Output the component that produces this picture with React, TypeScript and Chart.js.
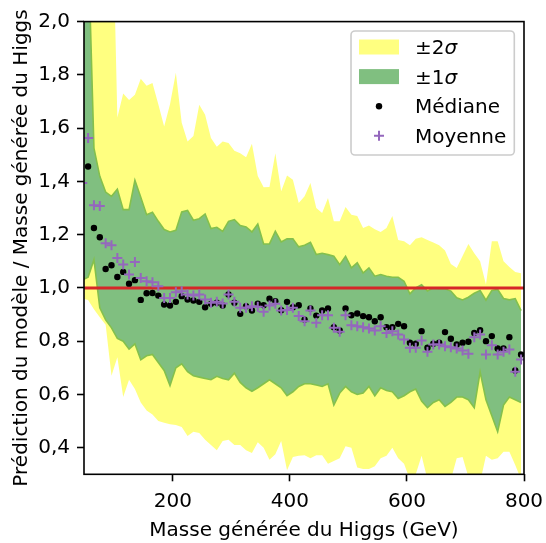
import React, { useEffect, useRef } from 'react';
import { Chart, registerables } from 'chart.js';

Chart.register(...registerables);

// ---------- data ----------
const masses = [
  45, 55, 65, 75, 85, 95, 105, 115, 125, 135, 145, 155, 165, 175, 185, 195, 205, 215, 225, 235,
  245, 255, 265, 275, 285, 295, 305, 315, 325, 335, 345, 355, 365, 375, 385, 395, 405, 415, 425, 435,
  445, 455, 465, 475, 485, 495, 505, 515, 525, 535, 545, 555, 565, 575, 585, 595, 605, 615, 625, 635,
  645, 655, 665, 675, 685, 695, 705, 715, 725, 735, 745, 755, 765, 775, 785, 795,
];

const medianValues: (number | null)[] = [
  null, 1.456, 1.225, 1.19, 1.071, 1.085, 1.041, 1.06, 1.016, 1.029, 0.955, 0.98, 0.981, 0.971, 0.9375, 0.934, 0.9475, 0.969, 0.956, 0.9525,
  0.9475, 0.9275, 0.94, 0.944, 0.934, 0.975, 0.944, 0.9025, 0.931, 0.915, 0.941, 0.935, 0.959, 0.95, 0.916, 0.9475, 0.9275, 0.935, 0.881, 0.9225,
  0.896, 0.915, 0.9225, 0.8525, 0.84, 0.9225, 0.8975, 0.904, 0.894, 0.89, 0.875, 0.89, 0.8525, 0.8525, 0.865, 0.856, 0.794, 0.79, 0.8375, 0.775,
  0.79, 0.794, 0.834, 0.809, 0.7875, 0.794, 0.7975, 0.831, 0.841, 0.8, 0.819, 0.7725, 0.7725, 0.815, 0.69, 0.75,
];

const meanValues = [
  1.394, 1.5625, 1.31, 1.3075, 1.1675, 1.16, 1.1125, 1.0875, 1.05, 1.0975, 1.0375, 1.025, 1.021, 1.006, 0.9625, 0.9625, 0.984, 0.9875, 0.975, 0.971,
  0.975, 0.956, 0.944, 0.9475, 0.941, 0.975, 0.9475, 0.925, 0.925, 0.931, 0.929, 0.91, 0.934, 0.94, 0.915, 0.917, 0.925, 0.894, 0.875, 0.915,
  0.869, 0.8975, 0.8975, 0.85, 0.835, 0.8975, 0.86, 0.856, 0.8525, 0.8475, 0.84, 0.856, 0.831, 0.8375, 0.825, 0.806, 0.775, 0.775, 0.8025, 0.76,
  0.7875, 0.7875, 0.781, 0.7775, 0.7725, 0.765, 0.7525, 0.815, 0.825, 0.75, 0.785, 0.75, 0.76, 0.769, 0.685, 0.731,
];

const sigma1Upper = [
  2.6, 2.3, 1.525, 1.419, 1.36, 1.344, 1.371, 1.294, 1.294, 1.404, 1.34, 1.275, 1.284, 1.25, 1.219, 1.21, 1.216, 1.285, 1.291, 1.254,
  1.26, 1.2775, 1.2225, 1.2275, 1.2125, 1.25, 1.256, 1.234, 1.229, 1.21, 1.24, 1.165, 1.165, 1.2125, 1.1725, 1.184, 1.184, 1.154, 1.16, 1.171,
  1.125, 1.13, 1.125, 1.119, 1.0875, 1.119, 1.075, 1.094, 1.056, 1.075, 1.044, 1.05, 1.044, 1.04, 1.04, 1.025, 0.978, 1.0, 1.012, 0.988,
  1.0, 0.997, 0.997, 0.988, 0.963, 0.955, 0.965, 0.98, 0.99, 0.954, 0.99, 0.994, 0.96, 0.955, 0.96, 0.915,
];

const sigma1Lower = [
  1.03, 1.04, 1.106, 0.925, 0.88, 0.85, 0.81, 0.8, 0.77, 0.79, 0.73, 0.745, 0.75, 0.72, 0.69, 0.633, 0.7, 0.715, 0.685, 0.67,
  0.665, 0.66, 0.655, 0.668, 0.66, 0.655, 0.68, 0.645, 0.625, 0.612, 0.625, 0.64, 0.655, 0.64, 0.625, 0.595, 0.61, 0.63, 0.64, 0.64,
  0.635, 0.63, 0.64, 0.56, 0.605, 0.63, 0.61, 0.6, 0.605, 0.63, 0.595, 0.625, 0.615, 0.61, 0.585, 0.595, 0.61, 0.62, 0.575, 0.55,
  0.57, 0.58, 0.555, 0.57, 0.59, 0.59, 0.58, 0.55, 0.685, 0.58, 0.52, 0.46, 0.56, 0.59, 0.58, 0.57,
];

const sigma2Upper = [
  2.6, 2.6, 2.6, 2.6, 2.6, 2.6, 1.64, 1.73, 1.706, 1.725, 1.785, 1.759, 1.769, 1.69, 1.606, 1.69, 1.8075, 1.62, 1.55, 1.57,
  1.6875, 1.65, 1.5625, 1.53, 1.55, 1.544, 1.515, 1.506, 1.491, 1.541, 1.42, 1.378, 1.379, 1.506, 1.3625, 1.4225, 1.406, 1.319, 1.344, 1.394,
  1.3, 1.281, 1.3375, 1.25, 1.25, 1.304, 1.275, 1.27, 1.225, 1.234, 1.22, 1.21, 1.225, 1.27, 1.18, 1.175, 1.16, 1.185, 1.19, 1.18,
  1.17, 1.16, 1.14, 1.09, 1.075, 1.12, 1.165, 1.13, 1.1, 1.0125, 1.175, 1.175, 1.1, 1.078, 1.06, 1.055,
];

const sigma2Lower = [
  0.96, 0.955, 0.92, 0.89, 0.862, 0.67, 0.74, 0.59, 0.655, 0.62, 0.57, 0.54, 0.525, 0.5, 0.494, 0.4875, 0.485, 0.478, 0.444, 0.46,
  0.455, 0.43, 0.41, 0.39, 0.425, 0.43, 0.41, 0.41, 0.39, 0.38, 0.42, 0.4, 0.355, 0.375, 0.425, 0.315, 0.365, 0.37, 0.372, 0.36,
  0.372, 0.372, 0.34, 0.35, 0.36, 0.405, 0.4, 0.326, 0.32, 0.32, 0.33, 0.36, 0.37, 0.4, 0.36, 0.34, 0.28, 0.3, 0.37, 0.28,
  0.25, 0.26, 0.27, 0.28, 0.36, 0.365, 0.29, 0.26, 0.27, 0.37, 0.355, 0.36, 0.385, 0.385, 0.335, 0.28,
];

const referenceLevel = 1.0;
const xTicks = [200, 400, 600, 800];
const yTicks = [0.4, 0.6, 0.8, 1.0, 1.2, 1.4, 1.6, 1.8, 2.0];
const xMin = 48;
const xMax = 800;
const yMin = 0.3;
const yMax = 2.0;

const legendLabels = ['±2σ', '±1σ', 'Médiane', 'Moyenne'];
const xTitle = 'Masse générée du Higgs (GeV)';
const yTitle = 'Prédiction du modèle / Masse générée du Higgs';

// ---------- styles ----------
const FONT = '"DejaVu Sans", "Liberation Sans", sans-serif';
const FS = 20;
const YELLOW = '#ffff80';
const GREEN = '#80bf80';
const GREEN_EDGE = '#84c04c';
const RED = '#d62728';
const PURPLE = '#9467bd';

const pts = (vals: (number | null)[]) => masses.map((m, i) => ({ x: m, y: vals[i] }));

export default function App() {
  const ref = useRef<HTMLCanvasElement | null>(null);

  useEffect(() => {
    if (!ref.current) return;

    const framePlugin = {
      id: 'mplFrame',
      afterDatasetsDraw(chart: any) {
        const { ctx, chartArea: a } = chart;
        ctx.save();
        ctx.strokeStyle = '#000';
        ctx.lineWidth = 1.6;
        ctx.strokeRect(a.left, a.top, a.right - a.left, a.bottom - a.top);
        ctx.restore();
      },
    };

    const legendPlugin = {
      id: 'mplLegend',
      afterDraw(chart: any) {
        const { ctx, chartArea: a } = chart;
        const reg = `${FS}px ${FONT}`;
        const ita = `italic ${FS}px ${FONT}`;
        ctx.save();
        const measure = (t: string) => {
          let w = 0;
          for (const ch of t) {
            ctx.font = ch === 'σ' ? ita : reg;
            w += ctx.measureText(ch).width;
          }
          return w;
        };
        const textW = Math.max(...legendLabels.map(measure));
        const pad = 0.4 * FS;
        const handleLen = 2 * FS;
        const handlePad = 0.8 * FS;
        const rowStep = 29.6;
        const boxW = pad + handleLen + handlePad + textW + pad;
        const boxH = 124;
        const right = a.right - 9.7;
        const top = a.top + 9.4;
        const left = right - boxW;

        const r = 4;
        ctx.beginPath();
        ctx.moveTo(left + r, top);
        ctx.lineTo(left + boxW - r, top);
        ctx.arcTo(left + boxW, top, left + boxW, top + r, r);
        ctx.lineTo(left + boxW, top + boxH - r);
        ctx.arcTo(left + boxW, top + boxH, left + boxW - r, top + boxH, r);
        ctx.lineTo(left + r, top + boxH);
        ctx.arcTo(left, top + boxH, left, top + boxH - r, r);
        ctx.lineTo(left, top + r);
        ctx.arcTo(left, top, left + r, top, r);
        ctx.closePath();
        ctx.fillStyle = 'rgba(255,255,255,0.8)';
        ctx.fill();
        ctx.strokeStyle = '#cccccc';
        ctx.lineWidth = 1.6;
        ctx.stroke();

        const hx = left + pad;
        const hcx = hx + handleLen / 2;
        const tx = hx + handleLen + handlePad;
        legendLabels.forEach((label, i) => {
          const base = top + 23 + i * rowStep;
          const cy = base - 7;
          if (i === 0 || i === 1) {
            ctx.fillStyle = i === 0 ? YELLOW : GREEN;
            ctx.fillRect(hx, cy - 7.5, handleLen, 15);
          } else if (i === 2) {
            ctx.fillStyle = '#000';
            ctx.beginPath();
            ctx.arc(hcx, cy, 3.2, 0, Math.PI * 2);
            ctx.fill();
          } else {
            ctx.strokeStyle = PURPLE;
            ctx.lineWidth = 2;
            ctx.beginPath();
            ctx.moveTo(hcx - 5, cy);
            ctx.lineTo(hcx + 5, cy);
            ctx.moveTo(hcx, cy - 5);
            ctx.lineTo(hcx, cy + 5);
            ctx.stroke();
          }
          ctx.fillStyle = '#000';
          ctx.textBaseline = 'alphabetic';
          ctx.textAlign = 'left';
          let x = tx;
          for (const ch of label) {
            ctx.font = ch === 'σ' ? ita : reg;
            ctx.fillText(ch, x, base);
            x += ctx.measureText(ch).width;
          }
        });
        ctx.restore();
      },
    };

    const tickFont = { family: FONT, size: FS };

    const chart = new Chart(ref.current, {
      type: 'line',
      data: {
        datasets: [
          {
            label: '±2σ',
            data: pts(sigma2Upper),
            borderWidth: 0,
            borderColor: 'rgba(0,0,0,0)',
            backgroundColor: YELLOW,
            pointRadius: 0,
            fill: '+1',
            order: 6,
            clip: 0,
          },
          {
            label: '2σ low',
            data: pts(sigma2Lower),
            borderWidth: 0,
            borderColor: 'rgba(0,0,0,0)',
            pointRadius: 0,
            fill: false,
            order: 5,
            clip: 0,
          },
          {
            label: '±1σ',
            data: pts(sigma1Upper),
            borderWidth: 1.6,
            borderColor: GREEN_EDGE,
            backgroundColor: GREEN,
            pointRadius: 0,
            fill: '+1',
            order: 4,
            clip: 0,
          },
          {
            label: '1σ low',
            data: pts(sigma1Lower),
            borderWidth: 1.6,
            borderColor: GREEN_EDGE,
            pointRadius: 0,
            fill: false,
            order: 3,
            clip: 0,
          },
          {
            label: 'ref',
            data: [
              { x: xMin, y: referenceLevel },
              { x: xMax, y: referenceLevel },
            ],
            borderWidth: 3,
            borderColor: RED,
            pointRadius: 0,
            fill: false,
            order: 2,
            clip: 0,
          },
          {
            label: 'Médiane',
            data: pts(medianValues),
            showLine: false,
            pointStyle: 'circle',
            pointRadius: 3.2,
            pointBorderWidth: 0,
            pointBackgroundColor: '#000',
            pointBorderColor: '#000',
            fill: false,
            order: 1,
            clip: 0,
          },
          {
            label: 'Moyenne',
            data: pts(meanValues),
            showLine: false,
            pointStyle: 'cross',
            pointRadius: 5,
            pointBorderWidth: 2,
            pointBorderColor: PURPLE,
            pointBackgroundColor: PURPLE,
            fill: false,
            order: 0,
            clip: 0,
          },
        ],
      },
      options: {
        animation: false,
        responsive: false,
        devicePixelRatio: 1,
        events: [],
        layout: { padding: { top: 21.6, right: 22, left: 0, bottom: 0 } },
        elements: { line: { tension: 0 } },
        plugins: {
          legend: { display: false },
          tooltip: { enabled: false },
          filler: { propagate: false, drawTime: 'beforeDatasetDraw' },
        },
        scales: {
          x: {
            type: 'linear',
            min: xMin,
            max: xMax,
            afterBuildTicks: (s: any) => {
              s.ticks = xTicks.map((v) => ({ value: v }));
            },
            afterFit: (s: any) => {
              s.height = 543 - 474.3;
              s.paddingLeft = 0;
              s.paddingRight = 0;
            },
            grid: {
              display: true,
              drawOnChartArea: false,
              drawTicks: true,
              tickLength: 7,
              tickWidth: 1.6,
              tickColor: '#000',
            },
            border: { display: false },
            ticks: {
              color: '#000',
              font: tickFont,
              padding: 8,
              maxRotation: 0,
              autoSkip: false,
              callback: (v: any) => String(v),
            },
            title: {
              display: true,
              text: xTitle,
              color: '#000',
              font: tickFont,
              padding: { top: 0, bottom: 0 },
            },
          },
          y: {
            type: 'linear',
            min: yMin,
            max: yMax,
            afterBuildTicks: (s: any) => {
              s.ticks = yTicks.map((v) => ({ value: v }));
            },
            afterFit: (s: any) => {
              s.width = 84;
              s.paddingTop = 0;
              s.paddingBottom = 0;
            },
            grid: {
              display: true,
              drawOnChartArea: false,
              drawTicks: true,
              tickLength: 7,
              tickWidth: 1.6,
              tickColor: '#000',
            },
            border: { display: false },
            ticks: {
              color: '#000',
              font: tickFont,
              padding: 7,
              autoSkip: false,
              callback: (v: any) => Number(v).toFixed(1).replace('.', ','),
            },
            title: {
              display: true,
              text: yTitle,
              color: '#000',
              font: tickFont,
              padding: { top: 9.6, bottom: 0 },
            },
          },
        },
      } as any,
      plugins: [framePlugin, legendPlugin],
    });

    return () => chart.destroy();
  }, []);

  return (
    <div style={{ position: 'fixed', left: 0, top: 0, width: 546, height: 543, background: '#fff' }}>
      <canvas ref={ref} width={546} height={543} style={{ width: 546, height: 543, display: 'block' }} />
    </div>
  );
}
